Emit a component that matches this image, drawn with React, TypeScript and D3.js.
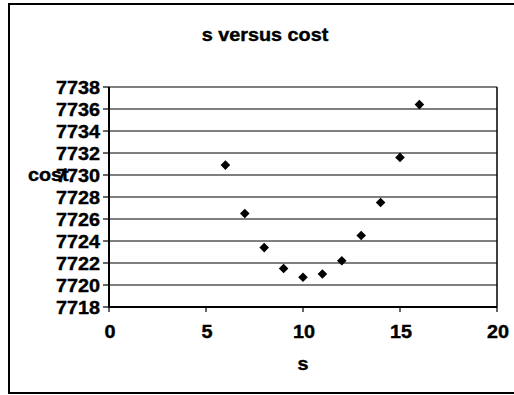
import React from "react";
import * as d3 from "d3";

// s values and corresponding cost
const sValues = [6, 7, 8, 9, 10, 11, 12, 13, 14, 15, 16];
const costValues = [7730.9, 7726.5, 7723.4, 7721.5, 7720.7, 7721.0, 7722.2, 7724.5, 7727.5, 7731.6, 7736.4];
const xTicks = [0, 5, 10, 15, 20];
const yTicks = [7718, 7720, 7722, 7724, 7726, 7728, 7730, 7732, 7734, 7736, 7738];

const W = 514;
const H = 395;
const plot = { left: 109, right: 497, top: 87, bottom: 307 };
const FONT = "'Liberation Sans', Arial, Helvetica, sans-serif";
const STRETCH = 1.1;

function Label({ x, y, anchor, size, children }: { x: number; y: number; anchor: string; size: number; children: React.ReactNode }) {
  return (
    <text
      transform={`translate(${x},${y}) scale(${STRETCH},1)`}
      textAnchor={anchor as any}
      fontFamily={FONT}
      fontWeight="bold"
      fontSize={size}
      fill="#000"
      stroke="#000"
      strokeWidth={0.4}
    >
      {children}
    </text>
  );
}

export default function App() {
  const x = d3.scaleLinear().domain([0, 20]).range([plot.left, plot.right]);
  const y = d3.scaleLinear().domain([7718, 7738]).range([plot.bottom, plot.top]);
  const diamond = d3.symbol(d3.symbolSquare, 46)();

  return (
    <svg width={W} height={H} style={{ position: "absolute", left: 0, top: 0, background: "#fff" }}>
      {/* chart frame */}
      <rect x={9} y={4} width={W + 20} height={389} fill="none" stroke="#000" strokeWidth={2} />

      <Label x={265} y={41} anchor="middle" size={18}>s versus cost</Label>

      {/* horizontal gridlines */}
      {yTicks.map((t) => (
        <line key={`g${t}`} x1={plot.left} x2={plot.right} y1={y(t)} y2={y(t)} stroke="#000" strokeWidth={1.2} />
      ))}

      {/* plot area border */}
      <line x1={plot.right} x2={plot.right} y1={plot.top} y2={plot.bottom} stroke="#000" strokeWidth={1.5} />
      <line x1={plot.left} x2={plot.left} y1={plot.top} y2={plot.bottom + 0.5} stroke="#000" strokeWidth={2} />
      <line x1={plot.left} x2={plot.right} y1={plot.bottom} y2={plot.bottom} stroke="#000" strokeWidth={2} />

      {/* y axis ticks and labels */}
      {yTicks.map((t) => (
        <g key={`y${t}`}>
          <line x1={plot.left - 6} x2={plot.left} y1={y(t)} y2={y(t)} stroke="#000" strokeWidth={1.2} />
          <Label x={100} y={y(t) + 6.5} anchor="end" size={18}>{t}</Label>
        </g>
      ))}

      {/* x axis ticks and labels */}
      {xTicks.map((t) => (
        <g key={`x${t}`}>
          <line x1={x(t)} x2={x(t)} y1={plot.bottom} y2={plot.bottom + 5} stroke="#000" strokeWidth={1.2} />
          <Label x={x(t) + 1} y={338} anchor="middle" size={18}>{t}</Label>
        </g>
      ))}

      <Label x={303} y={370} anchor="middle" size={18}>s</Label>
      <Label x={28} y={181} anchor="start" size={18}>cost</Label>

      {/* data points */}
      {sValues.map((s, i) => (
        <path
          key={`p${s}`}
          d={diamond || ""}
          transform={`translate(${x(s)},${y(costValues[i])}) rotate(45)`}
          fill="#000"
        />
      ))}
    </svg>
  );
}
